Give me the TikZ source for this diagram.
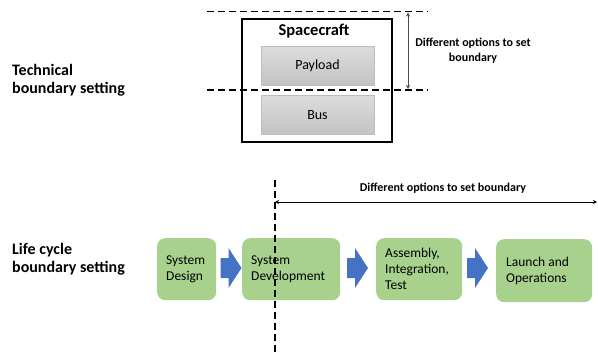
\documentclass[tikz,border=0pt]{standalone}
\usepackage{fontspec}
\setmainfont{Carlito}
\usetikzlibrary{arrows.meta,calc}
\definecolor{boxgreen}{HTML}{A9D18E}
\definecolor{arrowblue}{HTML}{4472C4}
\definecolor{graytop}{HTML}{DCDCDC}
\definecolor{graybot}{HTML}{C3C3C3}
\definecolor{grayedge}{HTML}{BDBDBD}
\begin{document}
\begin{tikzpicture}[x=1pt,y=-1pt,
  sidelabel/.style={font=\fontsize{16}{18}\selectfont\bfseries, align=left, anchor=west, inner sep=0pt},
  optlabel/.style={font=\fontsize{12}{15}\selectfont\bfseries, align=center, inner sep=0pt},
  graybox/.style={rectangle, draw=grayedge, line width=0.6pt, top color=graytop, bottom color=graybot,
    minimum width=113pt, minimum height=39pt, inner sep=0pt, font=\fontsize{14}{16}\selectfont},
  greenbox/.style={rectangle, rounded corners=8pt, fill=boxgreen, anchor=north west, align=left,
    inner xsep=9pt, inner ysep=0pt, minimum height=62pt, font=\fontsize{13.5}{16}\selectfont},
  bounddash/.style={line width=1.5pt, dash pattern=on 7pt off 4pt},
  optarrow/.style={line width=0.9pt, {Stealth[length=4pt,width=4pt]}-{Stealth[length=4pt,width=4pt]}},
  blockarrow/.pic={\fill[arrowblue] (0,-10) -- (8,-10) -- (8,-20) -- (21,0) -- (8,20) -- (8,10) -- (0,10) -- cycle;}
]
\useasboundingbox (0,0) rectangle (598,357);

% ---- Technical boundary ----
\node[sidelabel] (techlbl) at (12,80) {Technical\\boundary setting};

\node[draw=black, line width=1.8pt, minimum width=150pt, minimum height=123pt, inner sep=0pt] (sc) at (317,80.5) {};
\node[font=\fontsize{16.5}{18}\selectfont\bfseries, inner sep=0pt] (sctitle) at (314,31) {Spacecraft};
\node[graybox] (payload) at (317.5,65.5) {Payload};
\node[graybox] (bus) at (317.5,115) {Bus};

\coordinate (d1a) at (207,11.5);
\coordinate (d1b) at (428,11.5);
\coordinate (d2a) at (207,90);
\coordinate (d2b) at (428,90);
\draw[bounddash] (d1a) -- (d1b);
\draw[bounddash] (d2a) -- (d2b);

\coordinate (va) at (408,12.5);
\coordinate (vb) at (408,89);
\draw[optarrow, draw=black!70, line width=1pt] (va) -- (vb);
\node[optlabel] (toplbl) at (473,51) {Different options to set\\boundary};

% ---- Life cycle boundary ----
\node[sidelabel] (lclbl) at (12,259) {Life cycle\\boundary setting};

\node[greenbox, text width=41pt] (sd) at (157,238) {System\\Design};
\node[greenbox, text width=80pt] (sdev) at (242,238) {System\\Development};
\node[greenbox, text width=68pt] (ait) at (376,238) {Assembly,\\Integration,\\Test};
\node[greenbox, inner xsep=0pt, minimum width=96pt, minimum height=63pt] (lo) at (496,239) {};
\node[anchor=west, align=left, inner sep=0pt, font=\fontsize{13.5}{16}\selectfont] (lotext) at ($(lo.west)+(10,0)$) {Launch and\\Operations};

\pic at (220.5,268) {blockarrow};
\pic at (347,268) {blockarrow};
\pic at (467,268) {blockarrow};

\coordinate (vd1) at (275,180);
\coordinate (vd2) at (275,355);
\draw[bounddash] (vd1) -- (vd2);

\coordinate (ha) at (275,202);
\coordinate (hb) at (597,202);
\draw[optarrow] (ha) -- (hb);
\node[optlabel] (botlbl) at (443,188) {Different options to set boundary};
\end{tikzpicture}
\end{document}
